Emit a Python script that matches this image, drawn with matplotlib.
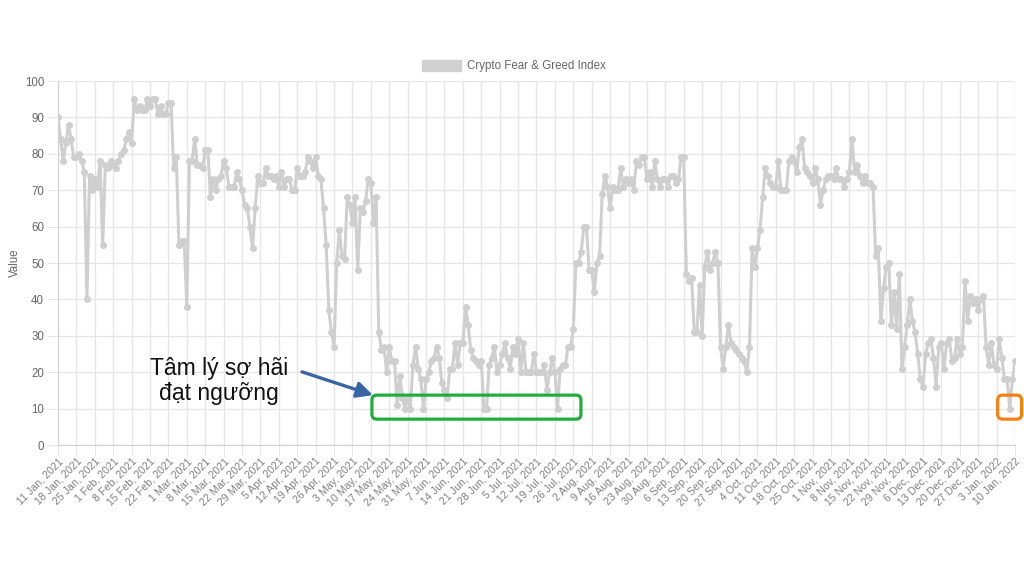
import matplotlib
matplotlib.use("Agg")
import matplotlib.pyplot as plt
import matplotlib.dates as mdates
from matplotlib.patches import FancyBboxPatch, Patch
from matplotlib.transforms import IdentityTransform
import pandas as pd

plt.rcParams['font.family'] = ['Liberation Sans', 'DejaVu Sans']

# daily Crypto Fear & Greed Index (starts 11 Jan 2021)
start_date = '2021-01-11'
jan_mar = [90, 84, 78, 83, 88, 84, 79, 79, 80, 78, 75, 40, 74, 70, 73, 71, 78, 55, 77,
           76, 78, 77, 76, 78, 80, 81, 84, 86, 83, 95, 92, 93, 92, 92, 95, 93, 95, 95,
           91, 93, 91, 91, 94, 94, 76, 79, 55, 56, 56, 38, 78, 78, 84, 77, 77, 76]
mar_may = [81, 81, 68, 73, 70, 73, 74, 78, 76, 71, 71, 71, 75, 73, 70, 66, 65, 60, 54,
           65, 74, 72, 72, 76, 74, 74, 73, 74, 71, 75, 71, 73, 73, 70, 70, 76, 74, 74,
           75, 79, 78, 76, 79, 74, 73, 65, 55, 37, 31, 27, 50, 59, 52, 51, 68, 66, 61,
           68, 48, 65, 64, 67, 73, 72, 61, 68]
may_jul = [31, 26, 27, 20, 27, 23, 23, 11, 19, 13, 10, 13, 10, 22, 27, 21, 18, 10, 18,
           20, 23, 24, 27, 24, 17, 15, 13, 21, 21, 28, 22, 28, 28, 38, 33, 26, 24, 23,
           22, 23, 10, 10, 22, 24, 27, 20, 22, 25, 28, 24, 21, 27, 25, 29, 20, 28, 20]
jul_sep = [20, 20, 25, 20, 20, 20, 22, 15, 20, 24, 20, 10, 21, 22, 22, 27, 27, 32, 50,
           50, 53, 60, 60, 48, 48, 42, 50, 52, 69, 74, 71, 65, 71, 70, 70, 76, 71, 73,
           72, 73, 70, 78, 77, 79, 79, 73, 75, 71, 78, 73, 71, 73, 73, 71, 74, 74, 72,
           73, 79, 79, 47]
sep_nov = [45, 46, 31, 31, 44, 30, 49, 53, 48, 50, 53, 50, 27, 21, 27, 33, 28, 27, 26,
           25, 24, 23, 20, 27, 54, 49, 54, 59, 68, 76, 74, 72, 71, 71, 78, 70, 70, 70,
           78, 79, 78, 75, 82, 84, 76, 75, 74, 72, 76, 73, 66, 70, 73, 74, 74, 73, 76,
           73, 73, 71, 73]
nov_jan = [75, 84, 75, 77, 74, 72, 74, 72, 72, 71, 52, 54, 34, 43, 49, 50, 33, 42, 32,
           47, 21, 27, 33, 40, 34, 31, 25, 18, 16, 25, 28, 29, 24, 16, 27, 28, 21, 28,
           29, 23, 24, 29, 25, 27, 45, 34, 41, 39, 40, 37, 40, 41, 27, 22, 28, 22, 21,
           29, 24, 18, 18, 10, 18, 23]

fng = jan_mar + mar_may + may_jul + jul_sep + sep_nov + nov_jan
dates = pd.date_range(start_date, periods=len(fng))

# weekly tick labels
tick_dates = pd.date_range('2021-01-11', '2022-01-10', freq='7D')
tick_labels = [f"{d.day} {d.strftime('%b')}, {d.year}" for d in tick_dates]

# annotation spans (days from start, index value)
fear_span = (119.4, 198.9)
last_span = (357.4, 366.5)
box_values = (7.1, 13.7)

grey = '#666666'
grid_c = '#e6e6e6'

fig = plt.figure(figsize=(10.24, 5.76), dpi=100)
ax = fig.add_axes([58 / 1024, 131 / 576, 957 / 1024, 364 / 576])

ax.plot(dates, fng, color='#cfcfcf', lw=2.2, marker='o', ms=4.0,
        mfc='#cfcfcf', mec='#cfcfcf', zorder=3)

ax.set_ylim(0, 100)
ax.set_yticks(range(0, 101, 10))
ax.set_xlim(dates[0], dates[-1])
ax.set_xticks(tick_dates)
ax.set_xticklabels(tick_labels, rotation=45, ha='right', rotation_mode='anchor',
                   color='#808080', fontsize=7.7)

ax.grid(True, color=grid_c, lw=1)
ax.set_axisbelow(True)
for s in ['top', 'right']:
    ax.spines[s].set_visible(False)
for s in ['left', 'bottom']:
    ax.spines[s].set_color('#d0d0d0')
ax.tick_params(axis='both', length=8, color=grid_c)
ax.tick_params(axis='y', pad=2, labelcolor=grey, labelsize=8.3)
ax.tick_params(axis='x', pad=0)

ax.set_ylabel('Value', color=grey, fontsize=8.3)
ax.yaxis.set_label_coords(-(58 - 21) / 957, 0.5)

fig.legend(handles=[Patch(facecolor='#d0d0d0', edgecolor='#d0d0d0')],
           labels=['Crypto Fear & Greed Index'], loc='center',
           bbox_to_anchor=(514 / 1024, 1 - 66 / 576), frameon=False,
           fontsize=8.3, labelcolor=grey, handlelength=3.4, handleheight=1.15,
           handletextpad=0.55)

# annotations
t0 = mdates.date2num(dates[0])
fig.text(219 / 1024, 1 - 381 / 576, 'Tâm lý sợ hãi\nđạt ngưỡng', ha='center', va='center',
         fontsize=16.5, color='#111111', linespacing=1.15)

ax.annotate('', xy=(t0 + 119.8, 13.7), xytext=(t0 + 92.8, 20.1),
            arrowprops=dict(arrowstyle='-|>', color='#3a65a5', lw=2.4,
                            mutation_scale=24, shrinkA=0, shrinkB=0),
            annotation_clip=False, zorder=5)


def rounded_box(span, color):
    (x0, y0) = ax.transData.transform((t0 + span[0], box_values[0]))
    (x1, y1) = ax.transData.transform((t0 + span[1], box_values[1]))
    box = FancyBboxPatch((x0, y0), x1 - x0, y1 - y0,
                         boxstyle='round,pad=0,rounding_size=5',
                         fill=False, edgecolor=color, lw=2.3,
                         transform=IdentityTransform(), zorder=6)
    fig.add_artist(box)


rounded_box(fear_span, '#1fae3a')
rounded_box(last_span, '#f58013')

fig.savefig('out.png', dpi=100)
